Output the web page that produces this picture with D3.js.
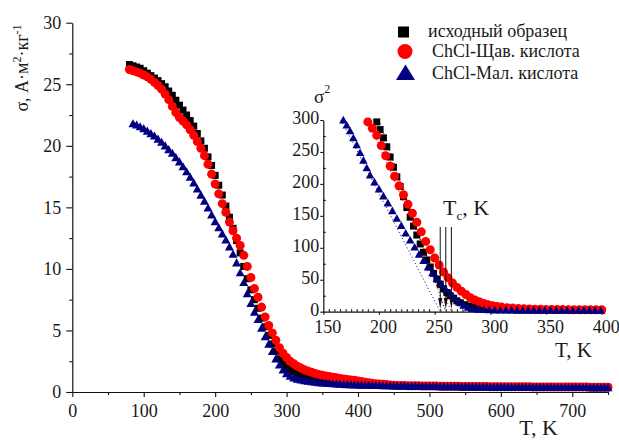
<!DOCTYPE html>
<html><head><meta charset="utf-8">
<script src="https://cdn.jsdelivr.net/npm/d3@7"></script>
<style>body{margin:0;background:#fff}svg{display:block}text{font-family:"Liberation Serif","Times New Roman",serif;fill:#1a1a1a}</style>
</head><body><svg id="c" width="619" height="441"></svg>
<script>
// ---------- main chart data (T, K vs sigma) ----------
const mainT = [80,85,90,95,100,105,110,115,120,125,130,135,140,145,150,155,160,165,170,175,180,185,190,195,200,205,210,215,220,225,230,235,240,245,250,255,260,265,270,275,280,285,290,295,300,305,310,315,320,325,330,335,340,345,350,355,360,365,370,375,380,385,390,395,400,405,410,415,420,425,430,435,440,445,450,455,460,465,470,475,480,485,490,495,500,505,510,515,520,525,530,535,540,545,550,555,560,565,570,575,580,585,590,595,600,605,610,615,620,625,630,635,640,645,650,655,660,665,670,675,680,685,690,695,700,705,710,715,720,725,730,735,740,745,750];
const sigmaInitial = [26.6,26.5,26.4,26.3,26.1,25.9,25.7,25.5,25.3,25.05,
 24.8,24.45,24.1,23.7,23.3,22.9,22.5,22.05,21.6,21.0,
 20.4,19.8,19.1,18.4,17.6,16.8,16.0,15.1,14.2,13.3,
 12.3,11.3,10.2,9.2,8.3,7.5,6.8,6.0,5.3,4.6,
 3.9,3.3,2.7,2.3,2.0,1.8,1.65,1.5,1.4,1.3,
 1.2,1.15,1.1,1.05,1.0,0.97,0.94,0.91,0.88,0.86,
 0.84,0.82,0.8,0.78,0.76,
 0.72,0.7,0.68,0.66,0.64,0.62,0.6,0.58,0.56,0.54,
 0.52,0.51,0.51,0.5,0.5,0.49,0.49,0.48,0.48,0.47,
 0.47,0.47,0.46,0.46,0.46,0.45,0.45,0.45,0.44,0.44,
 0.44,0.44,0.43,0.43,0.43,0.43,0.42,0.42,0.42,0.42,
 0.42,0.42,0.41,0.41,0.41,0.41,0.41,0.41,0.4,0.4,
 0.4,0.4,0.4,0.4,0.4,0.39,0.39,0.39,0.39,0.39,
 0.39,0.39,0.39,0.39,0.38,0.38,0.38,0.38,0.38,0.38];
const sigmaOxalic = [26.2,26.1,26.0,25.9,25.75,25.6,25.4,25.15,24.9,24.6,
 24.2,23.75,23.2,22.7,22.3,22.0,21.7,21.3,20.85,20.35,
 19.8,19.2,18.5,17.7,16.9,16.1,15.3,14.6,13.8,13.1,
 12.5,11.9,11.1,10.2,9.3,8.4,7.7,6.9,6.1,5.4,
 4.8,4.2,3.6,3.15,2.8,2.5,2.3,2.1,1.95,1.8,
 1.7,1.6,1.5,1.43,1.36,1.3,1.25,1.2,1.15,1.1,
 1.06,1.02,0.98,0.95,0.9,
 0.85,0.8,0.76,0.72,0.68,0.65,0.62,0.6,0.57,0.54,
 0.53,0.52,0.52,0.51,0.51,0.5,0.5,0.49,0.49,0.48,
 0.48,0.48,0.47,0.47,0.47,0.46,0.46,0.46,0.45,0.45,
 0.45,0.45,0.44,0.44,0.44,0.44,0.43,0.43,0.43,0.43,
 0.43,0.43,0.42,0.42,0.42,0.42,0.42,0.42,0.41,0.41,
 0.41,0.41,0.41,0.41,0.41,0.4,0.4,0.4,0.4,0.4,
 0.4,0.4,0.4,0.4,0.39,0.39,0.39,0.39,0.39,0.39];
const sigmaMalonic = [null,21.8,21.7,21.55,21.4,21.2,21.0,20.8,20.55,20.3,
 20.0,19.7,19.4,19.05,18.7,18.3,17.9,17.45,17.0,16.5,
 16.0,15.5,14.95,14.4,13.85,13.35,12.85,12.35,11.8,11.2,
 10.5,9.7,8.9,8.0,7.2,6.5,5.9,5.2,4.5,3.9,
 3.3,2.7,2.2,1.8,1.5,1.3,1.15,1.05,0.98,0.93,
 0.88,0.84,0.8,0.77,0.74,0.72,0.7,0.68,0.66,0.64,
 0.62,0.61,0.6,0.59,0.58,
 0.57,0.56,0.55,0.54,0.54,0.53,0.52,0.52,0.51,0.5,
 0.5,0.49,0.49,0.48,0.48,0.47,0.47,0.46,0.46,0.45,
 0.45,0.45,0.44,0.44,0.44,0.43,0.43,0.43,0.42,0.42,
 0.42,0.42,0.41,0.41,0.41,0.41,0.4,0.4,0.4,0.4,
 0.4,0.4,0.39,0.39,0.39,0.39,0.39,0.39,0.38,0.38,
 0.38,0.38,0.38,0.38,0.38,0.37,0.37,0.37,0.37,0.37,
 0.37,0.37,0.37,0.37,0.36,0.36,0.36,0.36,0.36,0.36];

// ---------- inset data (T, K vs sigma^2) ----------
const insetT_initial = [198,201,204,207,210,213,216,219,222,225,228,231,234,237,240,243,246,249,252,255,258,261,264,267,270,273,277,281,286,291,297,303,310,317,324,331,338,345,352,359,366,373,380,387,394,400];
const insetS2_initial = [297,285,272,258,242,226,211,196,180,163,148,134,120,106,93,81,70,60,51,43,36,30,25,21,17,14,11,9,7,5.5,4.5,3.8,3.3,3,2.8,2.7,2.6,2.5,2.5,2.4,2.4,2.3,2.3,2.3,2.2,2.2];
const insetT_oxalic = [190,194,198,202,206,210,214,218,222,226,230,234,238,242,246,250,254,258,262,266,270,274,278,282,286,290,294,298,302,306,310,315,320,325,330,335,340,345,350,355,360,365,370,375,380,385,390,395,400];
const insetS2_oxalic = [297,287,276,260,244,228,212,197,183,168,154,140,125,110,97,84,73,62,53,45,38,32,27,22,18.5,15.5,13,11,9.5,8.2,7.2,6.3,5.6,5,4.6,4.3,4,3.8,3.6,3.5,3.4,3.3,3.2,3.1,3.1,3,3,2.9,2.9];
const insetT_malonic = [168,171,174,177,180,183,186,189,192,196,200,204,208,212,216,220,224,228,232,236,240,244,248,252,256,260,264,268,272,276,280,284,289,294,299,304,309,314,319,324,329,334,339,344,349,354,359,364,369,374,379,384,389,394,399];
const insetS2_malonic = [300,292,283,272,261,249,237,225,214,203,192,181,170,158,146,135,123,112,101,90,80,70,61,52,43,35,28,21,15,10,7,5,3.8,3.2,2.8,2.6,2.5,2.4,2.4,2.3,2.3,2.3,2.2,2.2,2.2,2.2,2.1,2.1,2.1,2.1,2.1,2,2,2,2];
const tcValues = [255,260,265];
// dotted linear-fit guides in the inset: [T at sigma^2=300, T at sigma^2=0]
const fitMalonic = [166,255];
const fitInitial = [200,260];
const fitOxalic = [190,265];

// ---------- ticks / labels ----------
const xTicksMain = [0,100,200,300,400,500,600,700];
const xMinorMain = [50,150,250,350,450,550,650,750];
const yTicksMain = [0,5,10,15,20,25,30];
const yMinorMain = [2.5,7.5,12.5,17.5,22.5,27.5];
const xTicksInset = [150,200,250,300,350,400];
const xMinorInset = [155,160,165,170,175,180,185,190,195,205,210,215,220,225,230,235,240,245,255,260,265,270,275,280,285,290,295,305,310,315,320,325,330,335,340,345,355,360,365,370,375,380,385,390,395];
const yTicksInset = [0,50,100,150,200,250,300];
const yMinorInset = [25,75,125,175,225,275];
const legendLabels = ["исходный образец","ChCl-Щав. кислота","ChCl-Мал. кислота"];
const colors = ["#000000","#ff0000","#000080"];

const svg = d3.select("#c");
const FONT = '"Liberation Serif","Times New Roman",serif';

// ---------- scales ----------
const x = d3.scaleLinear().domain([0,750]).range([72.3,608]);
const y = d3.scaleLinear().domain([0,30]).range([392,22.7]);
const xi = d3.scaleLinear().domain([150,400]).range([323.3,601.7]);
const yi = d3.scaleLinear().domain([0,300]).range([311.7,120]);

function styleAxis(g, fs){
  g.selectAll("path.domain").attr("stroke","#111").attr("stroke-width",1.2);
  g.selectAll(".tick line").attr("stroke","#111").attr("stroke-width",1.1);
  g.selectAll("text").attr("font-family",FONT).attr("font-size",fs).attr("fill","#1a1a1a");
}

function drawMarkers(g, data, xs, ys, kind, color, sz){
  const sel = g.selectAll(null).data(data).enter();
  if(kind==="square"){
    sel.append("rect").attr("x",d=>xs(d.t)-sz/2).attr("y",d=>ys(d.v)-sz/2)
      .attr("width",sz).attr("height",sz).attr("fill",color);
  } else if(kind==="circle"){
    sel.append("circle").attr("cx",d=>xs(d.t)).attr("cy",d=>ys(d.v)).attr("r",sz/2).attr("fill",color);
  } else {
    const w=sz, h=sz*0.9;
    sel.append("path").attr("d",d=>{const cx=xs(d.t), cy=ys(d.v);
      return `M${cx},${cy-h*0.55}L${cx+w/2},${cy+h*0.45}L${cx-w/2},${cy+h*0.45}Z`;})
      .attr("fill",color);
  }
}

// ---------- main axes ----------
const gx = svg.append("g").attr("transform",`translate(0,${y(0)})`)
  .call(d3.axisBottom(x).tickValues(xTicksMain).tickSize(5).tickSizeOuter(0).tickPadding(7).tickFormat(d3.format("d")));
styleAxis(gx,18);
const gxm = svg.append("g").attr("transform",`translate(0,${y(0)})`)
  .call(d3.axisBottom(x).tickValues(xMinorMain).tickSize(3).tickSizeOuter(0).tickFormat(""));
gxm.select(".domain").remove(); styleAxis(gxm,18);

const gy = svg.append("g").attr("transform",`translate(${x(0)},0)`)
  .call(d3.axisLeft(y).tickValues(yTicksMain).tickSize(6).tickSizeOuter(0).tickPadding(5).tickFormat(d3.format("d")));
styleAxis(gy,18);
const gym = svg.append("g").attr("transform",`translate(${x(0)},0)`)
  .call(d3.axisLeft(y).tickValues(yMinorMain).tickSize(3).tickSizeOuter(0).tickFormat(""));
gym.select(".domain").remove(); styleAxis(gym,18);

svg.append("text").attr("x",558).attr("y",435).attr("text-anchor","end")
  .attr("font-size",22).text("T, K");
const yl = svg.append("text").attr("transform","translate(28,68) rotate(-90)")
  .attr("text-anchor","middle").attr("font-size",18);
yl.append("tspan").text("σ,  А·м");
yl.append("tspan").attr("dy",-7).attr("font-size",12).text("2");
yl.append("tspan").attr("dy",7).text("·кг");
yl.append("tspan").attr("dy",-7).attr("font-size",12).text("-1");

// ---------- main series ----------
const mainSeries = [
  {vals:sigmaInitial, kind:"square", color:colors[0], sz:7},
  {vals:sigmaOxalic,  kind:"circle", color:colors[1], sz:9},
  {vals:sigmaMalonic, kind:"tri",    color:colors[2], sz:9}
];
mainSeries.forEach(s=>{
  const data = mainT.map((t,i)=>({t, v:s.vals[i]})).filter(d=>d.v!=null);
  drawMarkers(svg.append("g"), data, x, y, s.kind, s.color, s.sz);
});

// ---------- inset axes ----------
const gxi = svg.append("g").attr("transform",`translate(0,${yi(0)})`)
  .call(d3.axisBottom(xi).tickValues(xTicksInset).tickSize(3).tickSizeOuter(0).tickPadding(6).tickFormat(d3.format("d")));
styleAxis(gxi,18);
gxi.selectAll(".tick text").attr("dx",4);
const gxim = svg.append("g").attr("transform",`translate(0,${yi(0)})`)
  .call(d3.axisTop(xi).tickValues(xMinorInset).tickSize(2.5).tickSizeOuter(0).tickFormat(""));
gxim.select(".domain").remove(); styleAxis(gxim,18);
const gyi = svg.append("g").attr("transform",`translate(${xi(150)},0)`)
  .call(d3.axisLeft(yi).tickValues(yTicksInset).tickSize(3).tickSizeOuter(0).tickPadding(1).tickFormat(d3.format("d")));
styleAxis(gyi,18);
gyi.selectAll(".tick text").attr("dy","0.2em");
const gyim = svg.append("g").attr("transform",`translate(${xi(150)},0)`)
  .call(d3.axisRight(yi).tickValues(yMinorInset).tickSize(2.5).tickSizeOuter(0).tickFormat(""));
gyim.select(".domain").remove(); styleAxis(gyim,18);

svg.append("text").attr("x",592).attr("y",357).attr("text-anchor","end").attr("font-size",21).text("T, K");
const s2 = svg.append("text").attr("x",314).attr("y",103).attr("font-size",19);
s2.append("tspan").text("σ");
s2.append("tspan").attr("dy",-10).attr("font-size",12).text("2");

// dotted fit guides
[[fitMalonic,colors[2]],[fitInitial,colors[0]],[fitOxalic,colors[1]]].forEach(([f,c])=>{
  svg.append("line").attr("x1",xi(f[0])).attr("y1",yi(300)).attr("x2",xi(f[1])).attr("y2",yi(0))
    .attr("stroke",c).attr("stroke-width",1).attr("stroke-dasharray","1,2.5");
});

// inset series
const insetSeries = [
  {T:insetT_initial, v:insetS2_initial, kind:"square", color:colors[0], sz:7},
  {T:insetT_oxalic,  v:insetS2_oxalic,  kind:"circle", color:colors[1], sz:9},
  {T:insetT_malonic, v:insetS2_malonic, kind:"tri",    color:colors[2], sz:8.5}
];
insetSeries.forEach(s=>{
  const data = s.T.map((t,i)=>({t, v:s.v[i]})).filter(d=>d.t>=150&&d.t<=400&&d.v<=300);
  drawMarkers(svg.append("g"), data, xi, yi, s.kind, s.color, s.sz);
});

// Tc arrows
const tcG = svg.append("g");
tcValues.forEach(tc=>{
  const cx = xi(tc);
  tcG.append("line").attr("x1",cx).attr("x2",cx).attr("y1",227).attr("y2",300)
    .attr("stroke","#111").attr("stroke-width",1);
  tcG.append("path").attr("d",`M${cx-2},298L${cx+2},298L${cx},309Z`).attr("fill","#111");
});
const tcT = svg.append("text").attr("x",443).attr("y",215).attr("font-size",22);
tcT.append("tspan").text("T");
tcT.append("tspan").attr("dy",5).attr("font-size",13).text("c");
tcT.append("tspan").attr("dy",-5).text(", K");

// ---------- legend ----------
const lg = svg.append("g");
lg.append("rect").attr("x",398).attr("y",26.5).attr("width",11).attr("height",11).attr("fill",colors[0]);
lg.append("circle").attr("cx",405).attr("cy",51.5).attr("r",7.5).attr("fill",colors[1]);
lg.append("path").attr("d","M405.5,64.5L415,80L396,80Z").attr("fill",colors[2]);
const lx = [428,432,432], ly=[37,57,79];
legendLabels.forEach((t,i)=>{
  lg.append("text").attr("x",lx[i]).attr("y",ly[i]).attr("font-size",18).text(t);
});
</script></body></html>
